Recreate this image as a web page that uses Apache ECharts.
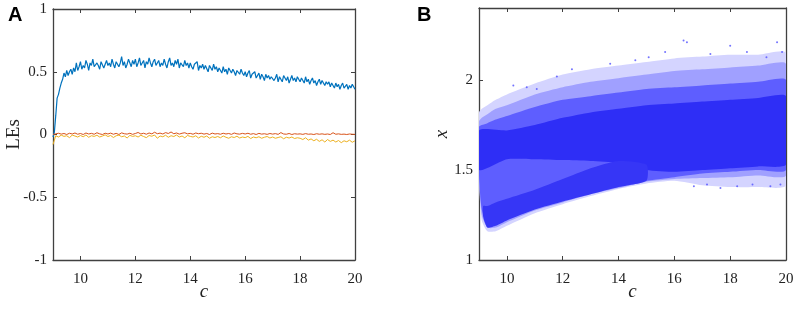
<!DOCTYPE html>
<html>
<head>
<meta charset="utf-8">
<script src="https://cdn.jsdelivr.net/npm/echarts@6/dist/echarts.min.js"></script>
<style>
  html, body { margin: 0; padding: 0; background: #fff; }
  #chart { width: 796px; height: 312px; }
</style>
</head>
<body>
<div id="chart"></div>
<script>
  // panel A: Lyapunov exponents vs c
  const blueStep = 0.05
  const blueLE = [
    -0.02, 0.02, 0.15, 0.29, 0.32, 0.37, 0.41, 0.44, 0.49, 0.46, 0.51, 0.47, 0.50, 0.52, 0.48, 0.53, 0.50, 0.57, 0.51, 0.54,
    0.58, 0.52, 0.55, 0.53, 0.59, 0.56, 0.51, 0.57, 0.55, 0.60, 0.54, 0.53, 0.57, 0.55, 0.52, 0.58, 0.57, 0.53, 0.56, 0.59,
    0.55, 0.57, 0.54, 0.60, 0.56, 0.53, 0.58, 0.59, 0.54, 0.57, 0.62, 0.55, 0.58, 0.53, 0.56, 0.60, 0.57, 0.54, 0.59, 0.56,
    0.60, 0.54, 0.57, 0.61, 0.55, 0.56, 0.59, 0.53, 0.58, 0.56, 0.61, 0.57, 0.54, 0.58, 0.60, 0.55, 0.56, 0.59, 0.54, 0.57,
    0.55, 0.60, 0.56, 0.53, 0.58, 0.61, 0.55, 0.57, 0.54, 0.59, 0.56, 0.60, 0.53, 0.57, 0.58, 0.54, 0.59, 0.55, 0.57, 0.53,
    0.57, 0.54, 0.52, 0.56, 0.55, 0.58, 0.51, 0.55, 0.53, 0.56, 0.52, 0.55, 0.54, 0.50, 0.55, 0.53, 0.51, 0.56, 0.52, 0.54,
    0.50, 0.53, 0.51, 0.49, 0.54, 0.50, 0.52, 0.48, 0.53, 0.51, 0.49, 0.52, 0.50, 0.47, 0.51, 0.50, 0.48, 0.52, 0.49, 0.47,
    0.50, 0.46, 0.49, 0.51, 0.45, 0.48, 0.47, 0.50, 0.45, 0.47, 0.49, 0.44, 0.48, 0.46, 0.43, 0.48, 0.45, 0.47, 0.44, 0.46,
    0.47, 0.43, 0.45, 0.48, 0.42, 0.46, 0.44, 0.42, 0.47, 0.45, 0.43, 0.46, 0.41, 0.44, 0.47, 0.43, 0.45, 0.42, 0.46, 0.44,
    0.42, 0.45, 0.43, 0.41, 0.46, 0.42, 0.44, 0.40, 0.43, 0.45, 0.41, 0.43, 0.39, 0.42, 0.44, 0.40, 0.43, 0.41, 0.39, 0.42,
    0.40, 0.42, 0.38, 0.41, 0.39, 0.37, 0.41, 0.38, 0.40, 0.36, 0.39, 0.41, 0.37, 0.38, 0.40, 0.36, 0.39, 0.37, 0.40, 0.38,
    0.36
  ]
  const smallStep = 0.1
  const redLE = [
    0.0, 0.005, 0.01, 0.003, 0.008, 0.0, 0.01, 0.004, 0.012, 0.002,
    0.008, 0.0, 0.012, 0.004, 0.009, 0.002, 0.014, 0.005, 0.0, 0.01,
    0.004, 0.011, 0.002, 0.009, 0.0, 0.013, 0.006, 0.003, 0.01, 0.001,
    0.008, 0.016, 0.004, 0.01, 0.002, 0.012, 0.005, 0.018, 0.006, 0.011,
    0.004, 0.015, 0.008, 0.02, 0.006, 0.012, 0.003, 0.01, 0.014, 0.005,
    0.009, 0.002, 0.012, 0.006, 0.01, 0.003, 0.008, 0.0, 0.011, 0.004,
    0.007, 0.002, 0.01, 0.004, 0.008, 0.001, 0.012, 0.005, 0.003, 0.009,
    0.004, 0.01, 0.002, 0.007, 0.0, 0.009, 0.003, 0.006, 0.001, 0.008,
    0.003, 0.007, 0.001, 0.015, 0.004, 0.002, 0.008, 0.0, 0.006, 0.003,
    0.005, 0.001, 0.007, 0.002, 0.004, 0.0, 0.006, 0.002, 0.005, 0.001,
    0.004, 0.0, 0.014, 0.002, 0.005, 0.001, 0.003, 0.0, 0.004, 0.002,
    0.001
  ]
  const yellowLE = [
    -0.08, -0.01, -0.02, -0.005, -0.015, -0.01, -0.025, -0.005, -0.012, -0.02,
    -0.008, -0.018, -0.004, -0.022, -0.01, -0.015, -0.006, -0.02, -0.012, -0.003,
    -0.016, -0.008, -0.024, -0.01, -0.005, -0.018, -0.012, -0.028, -0.007, -0.015,
    -0.01, -0.02, -0.006, -0.016, -0.025, -0.008, -0.014, -0.004, -0.03, -0.012,
    -0.018, -0.006, -0.022, -0.01, -0.016, -0.004, -0.02, -0.012, -0.026, -0.008,
    -0.015, -0.02, -0.01, -0.028, -0.014, -0.022, -0.012, -0.03, -0.018, -0.024,
    -0.016, -0.026, -0.012, -0.022, -0.03, -0.018, -0.024, -0.014, -0.028, -0.02,
    -0.025, -0.015, -0.032, -0.02, -0.026, -0.018, -0.03, -0.022, -0.016, -0.028,
    -0.02, -0.03, -0.024, -0.018, -0.034, -0.022, -0.028, -0.02, -0.032, -0.026,
    -0.03, -0.04, -0.026, -0.045, -0.035, -0.05, -0.038, -0.055, -0.042, -0.06,
    -0.04, -0.055, -0.045, -0.06, -0.048, -0.065, -0.05, -0.058, -0.045, -0.062,
    -0.05
  ]

  // panel B: bifurcation diagram, drawn as density bands
  const bandC    = [9, 9.1, 9.3, 9.6, 10, 11, 12, 13, 14, 15, 16, 17, 18, 19, 20]
  const faintLo  = [1.45, 1.22, 1.16, 1.16, 1.19, 1.26, 1.31, 1.355, 1.395, 1.425, 1.44, 1.415, 1.405, 1.405, 1.415]
  const faintHi  = [1.82, 1.84, 1.86, 1.89, 1.92, 1.98, 2.03, 2.06, 2.08, 2.10, 2.12, 2.13, 2.14, 2.14, 2.15]
  const sparseLo = [1.46, 1.25, 1.18, 1.18, 1.21, 1.275, 1.32, 1.365, 1.40, 1.435, 1.45, 1.455, 1.46, 1.47, 1.47]
  const sparseHi = [1.77, 1.79, 1.81, 1.84, 1.86, 1.92, 1.96, 1.99, 2.01, 2.03, 2.05, 2.06, 2.07, 2.08, 2.09]
  const midLo    = [1.47, 1.28, 1.20, 1.20, 1.225, 1.285, 1.33, 1.37, 1.405, 1.44, 1.46, 1.48, 1.49, 1.50, 1.50]
  const midHi    = [1.74, 1.75, 1.76, 1.78, 1.80, 1.85, 1.89, 1.91, 1.93, 1.95, 1.96, 1.97, 1.98, 1.99, 2.00]
  const coreC  = [9, 10, 11, 12, 13, 14, 15, 16, 17, 18, 19, 20]
  const coreLo = [1.50, 1.56, 1.56, 1.555, 1.55, 1.54, 1.50, 1.49, 1.50, 1.51, 1.52, 1.53]
  const coreHi = [1.72, 1.72, 1.75, 1.79, 1.82, 1.84, 1.86, 1.87, 1.88, 1.89, 1.90, 1.91]
  const lowC  = [9.15, 9.3, 9.6, 10, 11, 12, 13, 14, 15]
  const lowLo = [1.24, 1.18, 1.19, 1.22, 1.28, 1.325, 1.365, 1.405, 1.44]
  const lowHi = [1.30, 1.30, 1.32, 1.34, 1.39, 1.45, 1.51, 1.55, 1.53]
  const strayC = [16.33, 16.45, 19.68, 18.0, 15.67, 15.08, 14.6, 13.7, 12.33, 11.79, 10.23, 10.71, 11.07, 18.6, 19.3, 19.86, 17.29,
                  16.7, 17.17, 17.65, 18.25, 18.8, 19.44, 19.8]
  const strayX = [2.22, 2.21, 2.21, 2.19, 2.155, 2.127, 2.11, 2.09, 2.06, 2.02, 1.97, 1.96, 1.95, 2.155, 2.127, 2.155, 2.145,
                  1.41, 1.42, 1.40, 1.41, 1.42, 1.41, 1.42]

  const xTicks = [10, 12, 14, 16, 18, 20]
  const yTicksA = [-1, -0.5, 0, 0.5, 1]
  const yTicksB = [1, 1.5, 2]

  const axisColor = '#404040'
  const serif = 'Liberation Serif'

  function pairs(vals, step) {
    return vals.map((v, i) => [Math.round((9 + i * step) * 100) / 100, v])
  }

  function xAx(grid, pos, withLabel) {
    return {
      type: 'value', gridIndex: grid, position: pos, min: 9, max: 20,
      splitLine: { show: false },
      axisLine: { onZero: false, lineStyle: { color: axisColor, width: 1.3 } },
      axisTick: { inside: true, length: 4, customValues: xTicks, lineStyle: { color: axisColor } },
      axisLabel: { show: withLabel, customValues: xTicks, color: '#222', fontFamily: serif, fontSize: 15, margin: 12 },
      name: withLabel ? 'c' : '', nameLocation: 'middle', nameGap: 22, nameMoveOverlap: false,
      nameTextStyle: { fontFamily: serif, fontStyle: 'italic', fontSize: 19, color: '#222' }
    }
  }

  function yAx(grid, pos, withLabel, min, max, ticks, name, gap) {
    return {
      type: 'value', gridIndex: grid, position: pos, min: min, max: max,
      splitLine: { show: false },
      axisLine: { onZero: false, lineStyle: { color: axisColor, width: 1.3 } },
      axisTick: { inside: true, length: 4, customValues: ticks, lineStyle: { color: axisColor } },
      axisLabel: { show: withLabel, customValues: ticks, color: '#222', fontFamily: serif, fontSize: 15, margin: 6 },
      name: withLabel ? name : '', nameLocation: 'middle', nameGap: gap, nameMoveOverlap: false,
      nameTextStyle: { fontFamily: serif, fontStyle: name === 'x' ? 'italic' : 'normal', fontSize: 19, color: '#222' }
    }
  }

  function band(cs, lo, hi, color, z) {
    return {
      type: 'custom', xAxisIndex: 2, yAxisIndex: 2, z: z, silent: true, clip: true,
      data: [[cs[0], lo[0]]],
      renderItem: function (params, api) {
        const top = cs.map((c, i) => api.coord([c, hi[i]]))
        const bottom = cs.map((c, i) => api.coord([c, lo[i]])).reverse()
        return {
          type: 'polygon',
          shape: { points: top.concat(bottom), smooth: 0.2 },
          style: { fill: color }
        }
      }
    }
  }

  const chart = echarts.init(document.getElementById('chart'), null, { renderer: 'canvas' })

  const option = {
    animation: false,
    backgroundColor: '#fff',
    grid: [
      { left: 53, top: 9, width: 302, height: 251, outerBoundsMode: 'none' },
      { left: 479, top: 8, width: 307, height: 252, outerBoundsMode: 'none' }
    ],
    xAxis: [xAx(0, 'bottom', true), xAx(0, 'top', false), xAx(1, 'bottom', true), xAx(1, 'top', false)],
    yAxis: [
      yAx(0, 'left', true, -1, 1, yTicksA, 'LEs', 29),
      yAx(0, 'right', false, -1, 1, yTicksA, '', 0),
      yAx(1, 'left', true, 1, 2.4, yTicksB, 'x', 28),
      yAx(1, 'right', false, 1, 2.4, yTicksB, '', 0)
    ],
    graphic: [
      { type: 'text', left: 8, top: 5, style: { text: 'A', font: 'bold 20px "Liberation Sans"', fill: '#000' } },
      { type: 'text', left: 417, top: 5, style: { text: 'B', font: 'bold 20px "Liberation Sans"', fill: '#000' } }
    ],
    series: [
      {
        type: 'line', xAxisIndex: 0, yAxisIndex: 0, data: pairs(blueLE, blueStep),
        showSymbol: false, lineStyle: { color: '#0072BD', width: 1.2 }, clip: true
      },
      {
        type: 'line', xAxisIndex: 0, yAxisIndex: 0, data: pairs(redLE, smallStep),
        showSymbol: false, lineStyle: { color: '#D95319', width: 1 }, clip: true
      },
      {
        type: 'line', xAxisIndex: 0, yAxisIndex: 0, data: pairs(yellowLE, smallStep),
        showSymbol: false, lineStyle: { color: '#EDB120', width: 1 }, clip: true
      },
      band(bandC, faintLo, faintHi, '#d4d4ff', 1),
      band(bandC, sparseLo, sparseHi, '#a0a0ff', 2),
      band(bandC, midLo, midHi, '#5e5eff', 3),
      band(coreC, coreLo, coreHi, '#2e2ef6', 4),
      band(lowC, lowLo, lowHi, '#3636f6', 4),
      {
        type: 'scatter', xAxisIndex: 2, yAxisIndex: 2, z: 5,
        data: strayC.map((c, i) => [c, strayX[i]]),
        symbolSize: 2, itemStyle: { color: '#5050ff', opacity: 0.8 }
      }
    ]
  }

  chart.setOption(option)
</script>
</body>
</html>
